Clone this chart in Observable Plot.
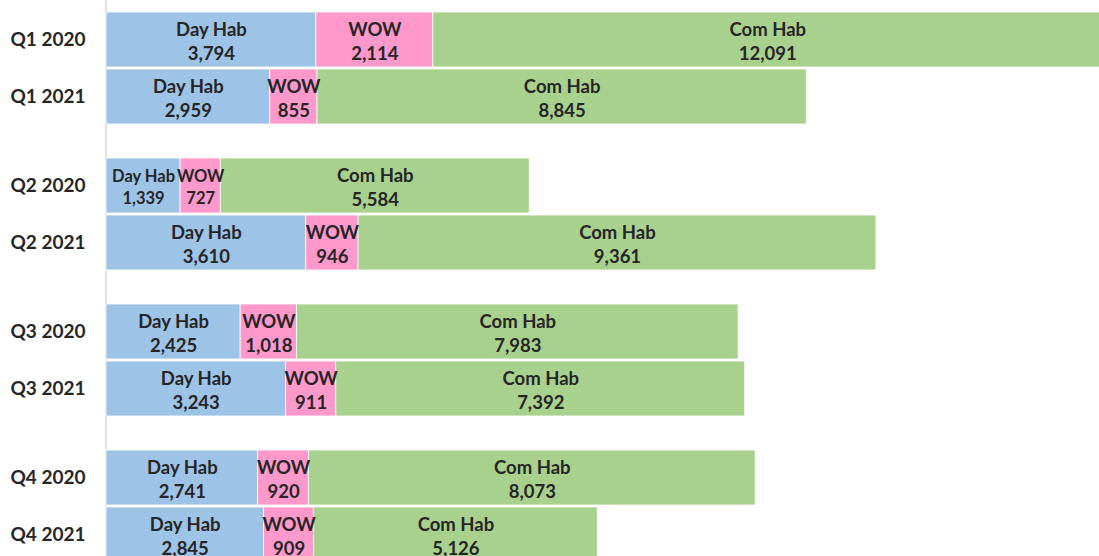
<!DOCTYPE html>
<html>
<head>
<meta charset="utf-8">
<script src="https://cdn.jsdelivr.net/npm/d3@7"></script>
<script src="https://cdn.jsdelivr.net/npm/@observablehq/plot@0.6"></script>
<style>
  html, body { margin: 0; padding: 0; background: #fff; overflow: hidden; }
</style>
</head>
<body>
<div id="chart"></div>
<script>
const quarters = ["Q1", "Q2", "Q3", "Q4"];
const years = ["2020", "2021"];
const seriesNames = ["Day Hab", "WOW", "Com Hab"];
// rows in order: Q1 2020, Q1 2021, Q2 2020, Q2 2021, Q3 2020, Q3 2021, Q4 2020, Q4 2021
const dayHab = [3794, 2959, 1339, 3610, 2425, 3243, 2741, 2845];
const wow    = [2114,  855,  727,  946, 1018,  911,  920,  909];
const comHab = [12091, 8845, 5584, 9361, 7983, 7392, 8073, 5126];
const colors = ["#9DC3E6", "#FF99CC", "#A9D18E"];

const rows = [];
quarters.forEach((q, qi) => years.forEach((y, yi) => rows.push({quarter: q, year: y, label: `${q} ${y}`, i: qi * 2 + yi})));

const data = [];
rows.forEach(r => {
  [dayHab, wow, comHab].forEach((arr, si) => {
    data.push({quarter: r.quarter, year: r.year, label: r.label, series: seriesNames[si], value: arr[r.i]});
  });
});

const fmt = d3.format(",");
const small = d => d.label === "Q2 2020" && d.series !== "Com Hab";

const chart = Plot.plot({
  width: 1099,
  height: 562,
  marginTop: 12,
  marginBottom: 0,
  marginLeft: 106,
  marginRight: 0,
  style: {fontFamily: "Lato, 'Open Sans', sans-serif", background: "#fff"},
  x: {domain: [0, 17950], axis: null},
  y: {domain: years, axis: null, paddingInner: 0.036, paddingOuter: 0},
  fy: {domain: quarters, axis: null, paddingInner: 0.233, paddingOuter: 0},
  color: {domain: seriesNames, range: colors},
  marks: [
    Plot.ruleX([0], {stroke: "#d9d9d9", strokeWidth: 1.5, dx: -0.5, insetTop: -17, insetBottom: -17}),
    Plot.barX(data, Plot.stackX({
      x: "value", y: "year", fy: "quarter", fill: "series", z: "series",
      order: seriesNames, stroke: "#fff", strokeWidth: 0.8
    })),
    Plot.textX(data, Plot.stackX({
      x: "value", y: "year", fy: "quarter", z: "series",
      order: seriesNames,
      text: d => `${d.series}\n${fmt(d.value)}`,
      fill: "#262626", fontWeight: "bold",
      fontSize: d => small(d) ? 16.5 : 18.5,
      lineHeight: 1.3
    })),
    Plot.text(rows, {
      x: () => 0, y: "year", fy: "quarter", text: "label",
      textAnchor: "end", dx: -21, fontWeight: "bold", fontSize: 19, fill: "#262626"
    })
  ]
});
document.getElementById("chart").appendChild(chart);
</script>
</body>
</html>
